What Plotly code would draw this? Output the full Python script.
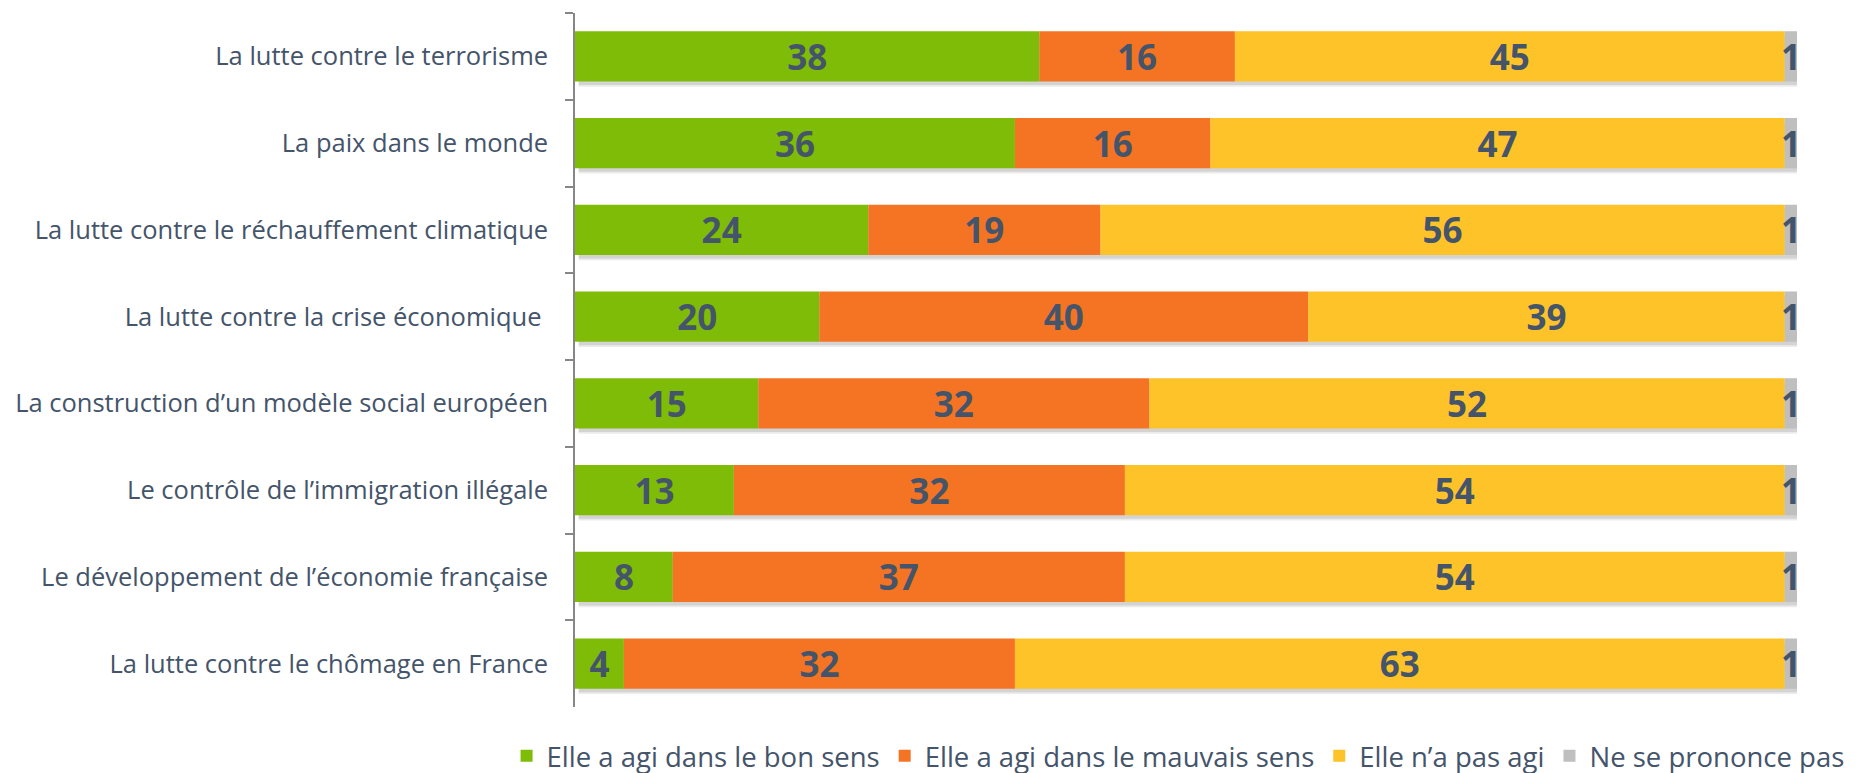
import plotly.graph_objects as go

categories = [
    "La lutte contre le terrorisme",
    "La paix dans le monde",
    "La lutte contre le réchauffement climatique",
    "La lutte contre la crise économique ",
    "La construction d’un modèle social européen",
    "Le contrôle de l’immigration illégale",
    "Le développement de l’économie française",
    "La lutte contre le chômage en France",
]
bon_sens = [38, 36, 24, 20, 15, 13, 8, 4]
mauvais_sens = [16, 16, 19, 40, 32, 32, 37, 32]
pas_agi = [45, 47, 56, 39, 52, 54, 54, 63]
nsp = [1, 1, 1, 1, 1, 1, 1, 1]

series_names = ["Elle a agi dans le bon sens", "Elle a agi dans le mauvais sens",
                "Elle n’a pas agi", "Ne se prononce pas"]
series_values = [bon_sens, mauvais_sens, pas_agi, nsp]
colors = ["#7FBC07", "#F47423", "#FFC32A", "#BFBFBF"]

BAR_W = 0.58
txt_color = "#44546A"

fig = go.Figure()

# drop shadow under each stacked bar
totals = [sum(v) for v in zip(*series_values)]
for off, op in [(0.06, 0.08), (0.04, 0.10)]:
    fig.add_trace(go.Bar(
        y=categories, x=totals, base=[0.3] * len(totals), orientation="h",
        width=BAR_W, offset=-BAR_W / 2 + off,
        marker=dict(color=f"rgba(0,0,0,{op})", line=dict(width=0)),
        showlegend=False, hoverinfo="skip",
    ))

base = [0] * len(categories)
for name, vals, col in zip(series_names, series_values, colors):
    fig.add_trace(go.Bar(
        y=categories, x=vals, base=list(base), orientation="h", name=name,
        width=BAR_W, offset=-BAR_W / 2,
        marker=dict(color=col, line=dict(width=0)),
        text=[str(v) for v in vals], textposition="inside", textangle=0,
        insidetextanchor="middle", constraintext="none",
        textfont=dict(family="Open Sans", size=35, color=txt_color, weight="bold"),
    ))
    base = [b + v for b, v in zip(base, vals)]

fig.update_layout(
    barmode="overlay",
    width=1854, height=773,
    margin=dict(l=567, r=65, t=5, b=74, autoexpand=False),
    plot_bgcolor="white", paper_bgcolor="white",
    font=dict(family="Open Sans", color=txt_color),
    xaxis=dict(range=[0, 100], visible=False, fixedrange=True),
    yaxis=dict(
        autorange="reversed", showline=True, linecolor="#868686", linewidth=1.5,
        ticks="outside", tickson="boundaries", ticklen=8, tickcolor="#868686",
        tickwidth=1.5, tickfont=dict(size=25.5, color=txt_color),
        ticklabelstandoff=20, showgrid=False,
    ),
    legend=dict(
        orientation="h", x=-0.056, xanchor="left", y=-0.0706, yanchor="middle",
        font=dict(size=27.5, color=txt_color), traceorder="normal",
        itemwidth=30, tracegroupgap=0,
    ),
    showlegend=True,
)

fig.write_html("out.html")
